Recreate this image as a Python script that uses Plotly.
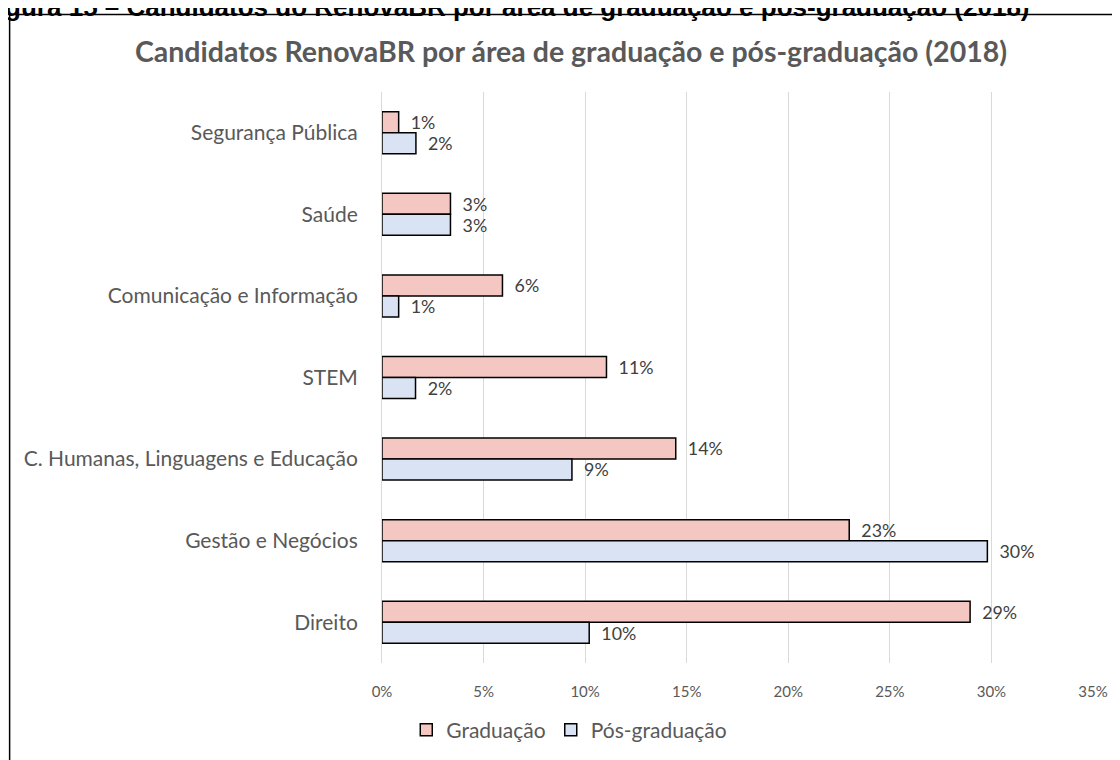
import plotly.graph_objects as go

categories = ["Segurança Pública", "Saúde", "Comunicação e Informação", "STEM",
              "C. Humanas, Linguagens e Educação", "Gestão e Negócios", "Direito"]
graduacao = [0.0082, 0.0337, 0.0593, 0.1105, 0.1446, 0.2300, 0.2895]
pos_graduacao = [0.0167, 0.0337, 0.0082, 0.0165, 0.0935, 0.2980, 0.1020]
x_ticks = [0, 0.05, 0.10, 0.15, 0.20, 0.25, 0.30, 0.35]
series_names = ["Graduação", "Pós-graduação"]

title_text = "Candidatos RenovaBR por área de graduação e pós-graduação (2018)"
caption_text = "Figura 15 – Candidatos do RenovaBR por área de graduação e pós-graduação (2018)"

FONT = "Lato"
OFF = 8  # page body margin
W, H = 1112, 752
# plot area in window pixels
PX0, PX1, PY0, PY1 = 381.7, 1093.3, 92, 663
L, R = PX0 - OFF, W - (PX1 - OFF)
T, B = PY0 - OFF, H - (PY1 - OFF)
pw, ph = PX1 - PX0, PY1 - PY0


def px(x):
    return (x - PX0) / pw


def py(y):
    return (PY1 - y) / ph


fig = go.Figure()
fig.add_trace(go.Bar(
    y=categories, x=graduacao, name=series_names[0], orientation="h",
    marker=dict(color="#F4C7C3", line=dict(color="#000000", width=1.5)),
    texttemplate="  %{x:.0%}", textposition="outside", cliponaxis=False,
    textfont=dict(family=FONT, size=19.5, color="#404040"),
))
fig.add_trace(go.Bar(
    y=categories, x=pos_graduacao, name=series_names[1], orientation="h",
    marker=dict(color="#DAE3F3", line=dict(color="#000000", width=1.5)),
    texttemplate="  %{x:.0%}", textposition="outside", cliponaxis=False,
    textfont=dict(family=FONT, size=19.5, color="#404040"),
))

fig.update_layout(
    width=W, height=H,
    margin=dict(l=L, r=R, t=T, b=B, autoexpand=False),
    paper_bgcolor="white", plot_bgcolor="white",
    barmode="group", bargap=0.485, bargroupgap=0,
    title=dict(text=title_text, x=(571 - OFF) / W, xanchor="center",
               y=1 - (52 - OFF) / H, yanchor="middle",
               font=dict(family=FONT, size=28.5, color="#595959", weight="bold")),
    xaxis=dict(range=[0, 0.35], tickvals=x_ticks, tickformat=".0%",
               showgrid=True, gridcolor="#D9D9D9", gridwidth=1,
               zeroline=False, showline=False, ticks="",
               ticklabelstandoff=18,
               tickfont=dict(family=FONT, size=15, color="#595959")),
    yaxis=dict(autorange="reversed", showgrid=False, zeroline=False,
               showline=True, linecolor="#D9D9D9", linewidth=1, ticks="",
               ticklabelstandoff=19,
               tickfont=dict(family=FONT, size=21, color="#595959")),
    legend=dict(orientation="h", x=px(406), xanchor="left", y=py(730), yanchor="middle",
                font=dict(family=FONT, size=21, color="#595959"),
                traceorder="normal", itemwidth=30, bgcolor="rgba(0,0,0,0)"),
    showlegend=True,
)

fig.add_shape(type="rect", xref="paper", yref="paper",
              x0=px(9), x1=px(1140), y0=py(790), y1=py(14.5),
              line=dict(color="#000000", width=1.5), fillcolor="rgba(0,0,0,0)", layer="below")

fig.add_annotation(text=caption_text, xref="paper", yref="paper",
                   x=px(1032), xanchor="right", y=py(24), yanchor="bottom",
                   showarrow=False,
                   font=dict(family="Liberation Sans", size=26, color="#000000", weight="bold"))

fig.write_html("out.html")
